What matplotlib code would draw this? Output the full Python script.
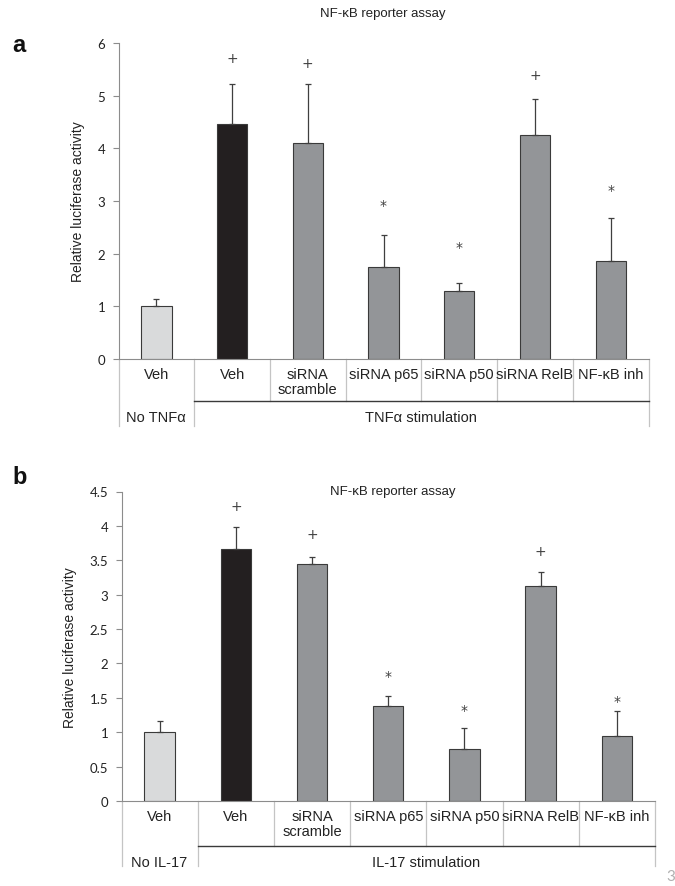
import matplotlib
matplotlib.use("Agg")
import matplotlib.pyplot as plt
from matplotlib import transforms

plt.rcParams["font.family"] = ["Liberation Sans Narrow", "Liberation Sans", "DejaVu Sans"]

# ---- data ----
categories = ["Veh", "Veh", "siRNA\nscramble", "siRNA p65", "siRNA p50", "siRNA RelB", "NF-\u03baB inh"]
marks = ["", "+", "+", "*", "*", "+", "*"]

a_mean = [1.0, 4.47, 4.10, 1.75, 1.30, 4.25, 1.86]
a_err = [0.13, 0.76, 1.13, 0.61, 0.14, 0.69, 0.81]
a_mark_y = [None, 5.71, 5.62, 2.98, 2.17, 5.39, 3.26]
a_groups = ["No TNF\u03b1", "TNF\u03b1 stimulation"]

b_mean = [1.0, 3.66, 3.45, 1.38, 0.76, 3.12, 0.95]
b_err = [0.16, 0.32, 0.10, 0.14, 0.30, 0.21, 0.36]
b_mark_y = [None, 4.29, 3.88, 1.85, 1.36, 3.64, 1.49]
b_groups = ["No IL-17", "IL-17 stimulation"]

bar_colors = ["#d9dadb", "#231f20", "#939598", "#939598", "#939598", "#939598", "#939598"]
W, H = 675, 887


def panel(rect, mean, err, mark_y, groups, ymax, ystep, row_h, tbl_h, title_xy, letter_y):
    l, b, r, t = rect
    ax = fig.add_axes([l / W, 1 - b / H, (r - l) / W, (b - t) / H])
    n = len(mean)
    x = list(range(n))
    ax.bar(x, mean, width=0.4, color=bar_colors, edgecolor="#3a3a3a", linewidth=0.8, zorder=2)
    ax.errorbar(x, mean, yerr=[[0] * n, err], fmt="none", ecolor="#3f3f3f",
                elinewidth=0.9, capsize=2.4, capthick=0.9, zorder=3)
    for xi, m, my in zip(x, marks, mark_y):
        if my is None:
            continue
        if m == "+":
            ax.text(xi, my, "+", ha="center", va="center", fontsize=10, color="#404040",
                    family="DejaVu Sans")
        else:
            ax.text(xi, my - 0.05 * ymax / 6, "*", ha="center", va="center", fontsize=10,
                    color="#404040", family="DejaVu Sans")
    ax.set_xlim(-0.5, n - 0.5)
    ax.set_ylim(0, ymax)
    ticks = [i * ystep for i in range(int(round(ymax / ystep)) + 1)]
    ax.set_yticks(ticks)
    ax.set_yticklabels([("%g" % v) for v in ticks], family="Lato", fontsize=9.5, color="#222222")
    ax.tick_params(axis="y", length=4.5, color="#8c8c8c", width=0.8, pad=5)
    ax.set_xticks([])
    for s in ["top", "right"]:
        ax.spines[s].set_visible(False)
    for s in ["left", "bottom"]:
        ax.spines[s].set_color("#8c8c8c")
        ax.spines[s].set_linewidth(0.8)
    ax.set_ylabel("Relative luciferase activity", fontsize=10, family="Liberation Sans",
                  labelpad=9, color="#222222")

    # category table below the axis, offsets in pixels
    def tr(dy):
        return transforms.offset_copy(ax.get_xaxis_transform(), fig=fig, y=-dy, units="dots")

    for xi, lab in enumerate(categories):
        ax.text(xi, 0, lab, transform=tr(8), ha="center", va="top", fontsize=10.5,
                color="#222222", linespacing=1.1)
    for i in range(n + 1):
        xb = i - 0.5
        dy = tbl_h if i in (0, 1, n) else row_h
        ax.add_line(plt.Line2D([xb, xb], [0, 0], transform=tr(0), color="#c4c4c4",
                               lw=0.9, clip_on=False))
        ax.lines[-1].set_transform(transforms.blended_transform_factory(
            ax.transData, transforms.IdentityTransform()))
        y0 = ax.transAxes.transform((0, 0))[1]
        ax.lines[-1].set_ydata([y0, y0 - dy])
    ax.add_line(plt.Line2D([0.5, n - 0.5], [0, 0], transform=tr(row_h), color="#3a3a3a",
                           lw=1.0, clip_on=False))
    ax.text(0, 0, groups[0], transform=tr(row_h + 9), ha="center", va="top", fontsize=10.5,
            color="#222222")
    ax.text(n / 2, 0, groups[1], transform=tr(row_h + 9), ha="center", va="top",
            fontsize=10.5, color="#222222")

    fig.text(title_xy[0] / W, 1 - title_xy[1] / H, "NF-\u03baB reporter assay", ha="center",
             va="center", fontsize=9.5, family="Liberation Sans", color="#222222")
    fig.text(12 / W, 1 - letter_y / H, chr(ord("a") + len(fig.axes) - 1), ha="left",
             va="center", fontsize=17, fontweight="bold", family="Liberation Sans",
             color="#111111")
    return ax


fig = plt.figure(figsize=(W / 100, H / 100), dpi=100)
fig.patch.set_facecolor("white")

panel((118.5, 360, 648.5, 44), a_mean, a_err, a_mark_y, a_groups, 6, 1, 42, 67, (383, 14), 45)
panel((121.5, 802, 655, 492.5), b_mean, b_err, b_mark_y, b_groups, 4.5, 0.5, 45, 65,
      (393, 492), 478)

fig.text(666 / W, 1 - 877 / H, "3", fontsize=11, color="#b0b0b0", family="Lato", va="center")

fig.savefig("out.png", dpi=100)
